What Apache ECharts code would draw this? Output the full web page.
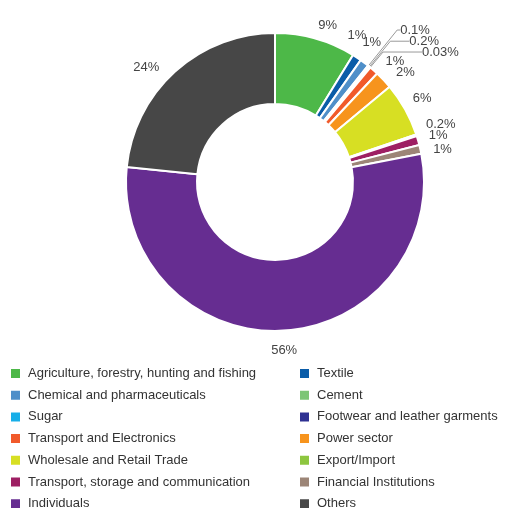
<!DOCTYPE html>
<html><head><meta charset="utf-8">
<script src="https://cdn.jsdelivr.net/npm/echarts@6/dist/echarts.min.js"></script>
<style>html,body{margin:0;padding:0;background:#fff}#c{width:505px;height:508px}</style>
</head><body><div id="c"></div>
<script>
const categories = [
  "Agriculture, forestry, hunting and fishing","Textile","Chemical and pharmaceuticals","Cement",
  "Sugar","Footwear and leather garments","Transport and Electronics","Power sector",
  "Wholesale and Retail Trade","Export/Import","Transport, storage and communication",
  "Financial Institutions","Individuals","Others"
];
const values = [9, 1, 1, 0.1, 0.2, 0.03, 1, 2, 6, 0.2, 1, 1, 56, 24];
const colors = ["#4db848","#0a5ca8","#4f8fc9","#7cc576","#17aee8","#2e3192","#f15a2b","#f7941d",
  "#d7df23","#8dc63f","#9e1f63","#9c8577","#662d91","#474747"];
const leftLegend = [0,2,4,6,8,10,12].map(i=>categories[i]);
const rightLegend = [1,3,5,7,9,11,13].map(i=>categories[i]);

// label styling: leader lines for the tiny slices, small nudges for the others
const leaderLines = {
  "Cement": [46, 3],
  "Sugar": [33, 19],
  "Footwear and leather garments": [20, 39]
};
const labelNudge = [[0,-4],[-15,-14],[-8,-12],[0,0],[0,0],[0,0],[5,-2],[5,-1],[-1,-6],[0,-8],[1,-2],[3,2],[-11,10],[-9,3]];

const chart = echarts.init(document.getElementById('c'));
const textStyle = {fontFamily:'Liberation Sans, Arial, sans-serif', fontSize:13, color:'#444'};
const legendBase = {orient:'vertical', top:362, height:170, itemWidth:11, itemHeight:11, itemGap:8.7,
  icon:'rect', textStyle:Object.assign({}, textStyle, {color:'#333', padding:[0,0,0,2]}), selectedMode:false};
chart.setOption({
  animation:false,
  color: colors,
  legend:[
    Object.assign({left:4, data:leftLegend}, legendBase),
    Object.assign({left:293, data:rightLegend}, legendBase)
  ],
  series:[{
    type:'pie',
    center:[275,182],
    radius:[78,149],
    startAngle:90,
    clockwise:true,
    avoidLabelOverlap:false,
    itemStyle:{borderColor:'#fff', borderWidth:2},
    label:Object.assign({show:true, position:'outside', distanceToLabelLine:0, formatter:p=>p.value+'%'}, textStyle),
    labelLine:{show:false, length:10, length2:0},
    labelLayout: p => {
      const n = labelNudge[p.dataIndex];
      return {dx:n[0], dy:n[1]};
    },
    data: categories.map((c,i)=>{
      const d = {name:c, value:values[i]};
      if (leaderLines[c]) {
        d.labelLine = {show:true, length:leaderLines[c][0], length2:leaderLines[c][1], lineStyle:{color:'#999', width:1}};
      }
      return d;
    })
  }]
});
</script></body></html>
